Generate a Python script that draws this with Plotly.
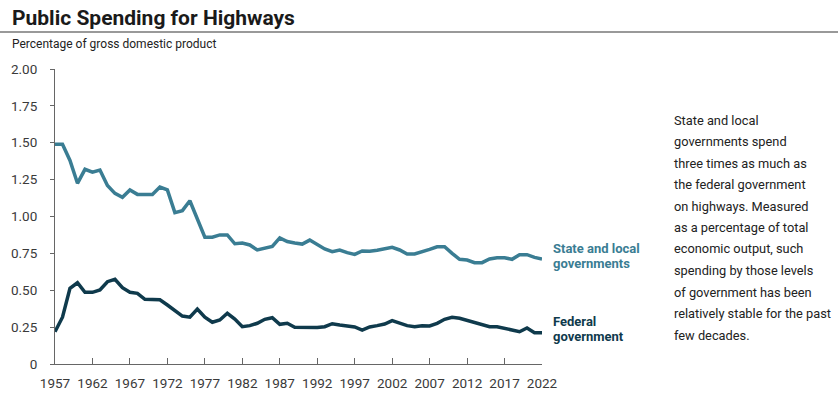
import plotly.graph_objects as go

years = list(range(1957, 2023))
state_local = [
    1.49, 1.49, 1.38, 1.225, 1.32, 1.30, 1.315, 1.21, 1.157, 1.13,
    1.18, 1.15, 1.15, 1.15, 1.20, 1.18, 1.026, 1.04, 1.107, 0.99,
    0.86, 0.86, 0.875, 0.875, 0.815, 0.82, 0.807, 0.773, 0.784, 0.797,
    0.855, 0.83, 0.82, 0.813, 0.84, 0.807, 0.78, 0.761, 0.773, 0.755,
    0.743, 0.766, 0.764, 0.771, 0.78, 0.791, 0.773, 0.746, 0.746, 0.759,
    0.777, 0.795, 0.795, 0.75, 0.71, 0.705, 0.687, 0.687, 0.712, 0.72,
    0.72, 0.71, 0.741, 0.741, 0.723, 0.712,
]
federal = [
    0.219, 0.317, 0.513, 0.551, 0.486, 0.486, 0.502, 0.558, 0.574, 0.517,
    0.486, 0.479, 0.439, 0.435, 0.435, 0.40, 0.361, 0.325, 0.317, 0.373,
    0.317, 0.283, 0.298, 0.344, 0.305, 0.253, 0.26, 0.276, 0.303, 0.314,
    0.269, 0.276, 0.249, 0.249, 0.244, 0.247, 0.253, 0.273, 0.264, 0.258,
    0.251, 0.23, 0.251, 0.26, 0.271, 0.294, 0.28, 0.26, 0.253, 0.26,
    0.258, 0.276, 0.303, 0.317, 0.31, 0.296, 0.28, 0.269, 0.253, 0.253,
    0.242, 0.23, 0.219, 0.244, 0.212, 0.212,
]
x_ticks = list(range(1957, 2023, 5))
y_ticks = [0, 0.25, 0.5, 0.75, 1.0, 1.25, 1.5, 1.75, 2.0]
y_tick_text = ["0", "0.25", "0.50", "0.75", "1.00", "1.25", "1.50", "1.75", "2.00"]

title = "Public Spending for Highways"
subtitle = "Percentage of gross domestic product"
note_lines = [
    "State and local",
    "governments spend",
    "three times as much as",
    "the federal government",
    "on highways. Measured",
    "as a percentage of total",
    "economic output, such",
    "spending by those levels",
    "of government has been",
    "relatively stable for the past",
    "few decades.",
]

TEAL = "#3a7d93"
DARK = "#0f3a4c"
FONT = "Roboto"
W, H = 838, 395
L, R, T, B = 55, 296, 69, 31
PW, PH = W - L - R, H - T - B


def px(x):
    return (x - L) / PW


def py(y):
    return (H - B - y) / PH


fig = go.Figure()
fig.add_trace(go.Scatter(x=years, y=state_local, mode="lines",
                         line=dict(color=TEAL, width=3.5), cliponaxis=False,
                         hoverinfo="skip"))
fig.add_trace(go.Scatter(x=years, y=federal, mode="lines",
                         line=dict(color=DARK, width=3.5), cliponaxis=False,
                         hoverinfo="skip"))

ann = []
ann.append(dict(text="<b>" + title + "</b>", x=px(10), y=py(18), xref="paper", yref="paper",
                xanchor="left", yanchor="middle", showarrow=False,
                font=dict(family=FONT, size=21, color="#1a1a1a")))
ann.append(dict(text=subtitle, x=px(10), y=py(44), xref="paper", yref="paper",
                xanchor="left", yanchor="middle", showarrow=False,
                font=dict(family=FONT, size=12, color="#222")))
for i, line in enumerate(note_lines):
    ann.append(dict(text=line, x=px(672), y=py(120 + i * 21.5), xref="paper", yref="paper",
                    xanchor="left", yanchor="middle", showarrow=False,
                    font=dict(family=FONT, size=12.8, color="#222")))
for txt, yy, col in [("State and local", 248, TEAL), ("governments", 263, TEAL),
                     ("Federal", 321, DARK), ("government", 336, DARK)]:
    ann.append(dict(text="<b>" + txt + "</b>", x=px(551), y=py(yy), xref="paper", yref="paper",
                    xanchor="left", yanchor="middle", showarrow=False,
                    font=dict(family=FONT, size=13, color=col)))

fig.update_layout(
    width=W, height=H,
    margin=dict(l=L, r=R, t=T, b=B, pad=0, autoexpand=False),
    paper_bgcolor="white", plot_bgcolor="white",
    showlegend=False,
    annotations=ann,
    shapes=[dict(type="line", xref="paper", yref="paper", x0=px(0), x1=px(838),
                 y0=py(32), y1=py(32), line=dict(color="#777", width=1.5))],
    font=dict(family=FONT, size=12, color="#333"),
)
fig.update_xaxes(range=[1957, 2022], tickvals=x_ticks, ticks="inside", ticklen=6,
                 tickcolor="#666", showline=True, linecolor="#666", linewidth=1,
                 showgrid=False, zeroline=False, ticklabelstandoff=7, automargin=False,
                 tickfont=dict(size=13.5, color="#3a3a3a"))
fig.update_yaxes(range=[0, 2], tickvals=y_ticks, ticktext=y_tick_text, ticks="outside",
                 ticklen=4, tickcolor="#666", showline=True, linecolor="#666", linewidth=1,
                 showgrid=False, zeroline=False, ticklabelstandoff=10, automargin=False,
                 tickfont=dict(size=13.5, color="#3a3a3a"))

fig.write_html("out.html")
